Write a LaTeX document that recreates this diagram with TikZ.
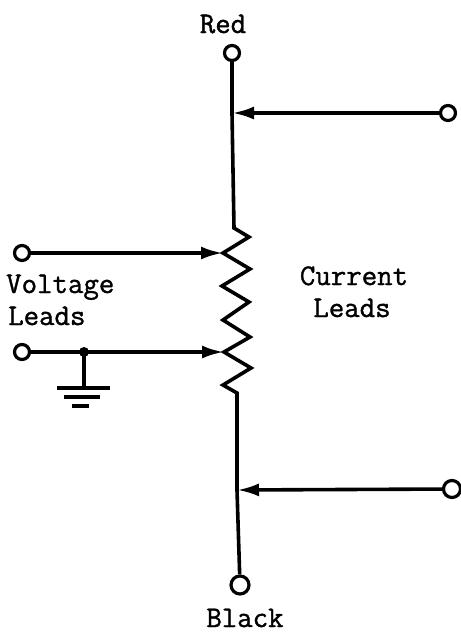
\documentclass[tikz,border=0pt]{standalone}
\usepackage{fontspec}
\newfontfamily\typewr[FakeBold=1.2]{Latin Modern Mono}
\usetikzlibrary{arrows.meta}
\tikzset{
  wire/.style={line width=3.6pt,black,line join=miter},
  lead/.style={wire,-{Latex[length=22pt,width=13pt]}},
  term/.style={circle,draw=black,line width=3.2pt,fill=white,inner sep=0pt,minimum size=#1},
  term/.default=15pt,
  lbl/.style={font=\fontsize{30}{30}\selectfont\typewr,inner sep=0pt,anchor=base,text=black}
}
\begin{document}
\begin{tikzpicture}[x=1pt,y=-1pt]
\useasboundingbox (0,0) rectangle (461,633);
\node[term] (red) at (232,53) {};
\node[term] (rt) at (448,113) {};
\node[term] (vt) at (22,253) {};
\node[term] (vb) at (22,352) {};
\node[term=17pt] (rb) at (452,489) {};
\node[term=18pt] (blk) at (240,585) {};
\coordinate (jt) at (232,113);
\coordinate (jb) at (237,490);
\coordinate (rtop) at (234,228);
\coordinate (rbot) at (237,393);
\coordinate (tapa) at (223,253);
\coordinate (tapb) at (224,352);
\coordinate (gj) at (84,352);
\coordinate (gs) at (84,388);
\draw[wire] (red) -- (jt) -- (rtop)
  -- (249,237) -- (tapa) -- (250,269) -- (222,286) -- (249,302) -- (223,320)
  -- (250,337) -- (tapb) -- (251,368) -- (223,385) -- (rbot) -- (jb) -- (blk);
\draw[lead] (rt) -- (jt);
\draw[lead] (rb) -- (jb);
\draw[lead] (vt) -- (tapa);
\draw[lead] (vb) -- (tapb);
\fill (gj) circle (5pt);
\draw[wire] (gj) -- (gs);
\draw[wire] (57,388) -- (110,388);
\draw[wire] (64,397) -- (100,397);
\draw[wire] (72,406) -- (89,406);
\node[lbl] (tred) at (223,33) {Red};
\node[lbl,anchor=base west] (tv) at (6,293) {Voltage};
\node[lbl,anchor=base west] (tl) at (8,325) {Leads};
\node[lbl] (tc) at (354,285) {Current};
\node[lbl] (tl2) at (352,317) {Leads};
\node[lbl] (tb) at (245,627) {Black};
\end{tikzpicture}
\end{document}
